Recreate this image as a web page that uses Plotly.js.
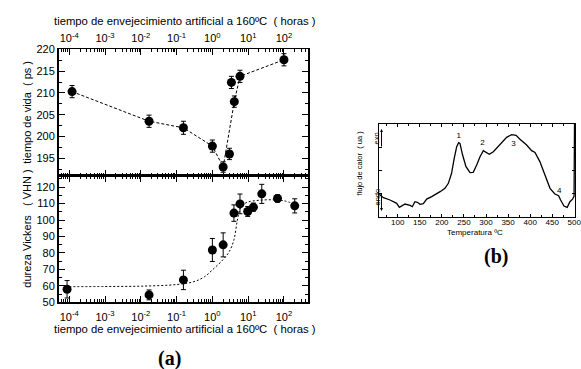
<!DOCTYPE html>
<html>
<head>
<meta charset="utf-8">
<script src="https://cdn.plot.ly/plotly-3.0.1.min.js"></script>
<style>html,body{margin:0;padding:0;background:#fff;}#chart{width:581px;height:369px;}</style>
</head>
<body>
<div id="chart"></div>
<script>
// ---- Panel (a) top: positron lifetime ----
const vidaTiempo = [1.2e-4, 0.017, 0.155, 1.0, 2.0, 3.0, 3.4, 4.1, 5.9, 100];
const vidaValor  = [210.3, 203.5, 202.0, 197.8, 193.0, 196.0, 212.4, 208.0, 213.8, 217.6];
const vidaError  = [1.4, 1.4, 1.5, 1.4, 1.2, 1.3, 1.4, 1.3, 1.4, 1.4];
const vidaGuiaT  = [1.2e-4, 0.017, 0.155, 1.0, 2.0, 4.1, 5.9, 100];
const vidaGuiaV  = [210.3, 203.5, 202.0, 197.8, 193.0, 208.0, 213.8, 217.6];

// ---- Panel (a) bottom: Vickers hardness ----
const durezaTiempo = [8.7e-5, 0.017, 0.155, 1.0, 2.0, 4.0, 5.9, 9.7, 14, 24, 66, 200];
const durezaValor  = [57.9, 54.5, 63.6, 81.8, 84.9, 104.2, 109.8, 105.2, 107.8, 115.9, 113.1, 108.6];
const durezaError  = [5.3, 3.0, 5.9, 7.0, 7.3, 5.0, 6.0, 3.0, 2.5, 5.8, 2.2, 4.3];
const ajusteT = [1e-4, 1e-3, 0.01, 0.1, 0.3, 0.6, 1.0, 2.0, 3.0, 4.0, 5.0, 6.0, 8.0, 10, 20, 50, 100, 200];
const ajusteV = [59.5, 59.6, 59.8, 60.8, 62.5, 65.5, 69.7, 76, 81, 88, 100, 107, 110, 111, 112, 112.3, 111.7, 109.6];

const decadas = [1e-4, 1e-3, 1e-2, 1e-1, 1, 10, 100];
const decadasTexto = ['10<sup>-4</sup>','10<sup>-3</sup>','10<sup>-2</sup>','10<sup>-1</sup>','10<sup>0</sup>','10<sup>1</sup>','10<sup>2</sup>'];

// ---- Panel (b): DSC ----
const temperatura = [58.5, 67.5, 82.6, 97.7, 103.8, 116.6, 128, 133, 139, 144.5, 150.6, 158, 165.7, 177, 196, 207, 214.7, 222, 228, 233.6, 238, 241, 247, 254.7, 263.8, 271, 278.9, 286.4, 294, 297.7, 307.5, 316.6, 331.7, 346.8, 358, 368, 377, 392, 403.4, 411, 422, 433.6, 445, 456, 464.5, 469, 476.6, 484, 490, 496, 499.5, 500.5];
const flujo = [24.1, 20.5, 18, 14.4, 10.1, 13.7, 12.2, 10.8, 16.2, 15.5, 13.3, 14, 19, 21.6, 27, 30.6, 36, 46.8, 62.9, 75.5, 79.9, 79.1, 66.5, 54, 47.5, 47.8, 55.8, 64.7, 71.2, 70.1, 67.3, 70.1, 77.3, 85.6, 88.5, 87.8, 83.5, 77.3, 71.2, 69.4, 59.4, 45, 30.6, 24.5, 22.7, 18, 11.5, 10.1, 16.2, 19, 22, 100];
const picosT = [238, 292, 362, 466];
const picosV = [87, 79, 78, 28];
const picosTexto = ['1', '2', '3', '4'];

const W = 581, H = 369;
const px = x => x / W;
const py = y => 1 - y / H;

const FONT = 'Liberation Sans, Arial, sans-serif';
const minorVals = [];
for (let e = -5; e <= 2; e++) for (let m = 2; m <= 9; m++) minorVals.push(m * Math.pow(10, e));

const baseLog = {
  type: 'log', range: [-4.30, 2.68], showgrid: false, zeroline: false,
  showline: true, linecolor: '#000', linewidth: 1.5, mirror: 'ticks',
  ticks: 'inside', ticklen: 6, tickwidth: 1, tickcolor: '#000',
  tickmode: 'array', tickvals: decadas, ticktext: decadasTexto,
  tickfont: {family: FONT, size: 11, color: '#000'}, ticklabeloverflow: 'allow',
  minor: {tickmode: 'array', tickvals: minorVals, ticks: 'inside', ticklen: 3, tickwidth: 1, tickcolor: '#000', showgrid: false}
};

const traces = [
  {x: vidaGuiaT, y: vidaGuiaV, xaxis: 'x2', yaxis: 'y2', mode: 'lines',
   line: {color: '#000', width: 1, dash: '3px,2px'}, hoverinfo: 'skip'},
  {x: vidaTiempo, y: vidaValor, xaxis: 'x2', yaxis: 'y2', mode: 'markers',
   marker: {color: '#000', size: 9},
   error_y: {type: 'data', array: vidaError, color: '#000', thickness: 1, width: 2.5}},
  {x: ajusteT, y: ajusteV, xaxis: 'x', yaxis: 'y', mode: 'lines',
   line: {color: '#000', width: 1, dash: '2px,2px', shape: 'spline'}, hoverinfo: 'skip'},
  {x: durezaTiempo, y: durezaValor, xaxis: 'x', yaxis: 'y', mode: 'markers',
   marker: {color: '#000', size: 9},
   error_y: {type: 'data', array: durezaError, color: '#000', thickness: 1, width: 2.5}},
  {x: temperatura, y: flujo, xaxis: 'x3', yaxis: 'y3', mode: 'lines',
   line: {color: '#000', width: 1.3}},
  {x: picosT, y: picosV, xaxis: 'x3', yaxis: 'y3', mode: 'text', text: picosTexto,
   textfont: {family: FONT, size: 8, color: '#000'}, hoverinfo: 'skip'}
];

const yMid = 0.5237;
const layout = {
  width: W, height: H, margin: {l: 0, r: 0, t: 0, b: 0},
  paper_bgcolor: '#fff', plot_bgcolor: '#fff', showlegend: false,
  font: {family: FONT, color: '#000'},
  xaxis: Object.assign({}, baseLog, {domain: [px(58.5), px(308.3)], anchor: 'y', side: 'bottom', ticklabelstandoff: 4}),
  xaxis2: Object.assign({}, baseLog, {domain: [px(58.5), px(308.3)], anchor: 'y2', side: 'top', ticklabelstandoff: 1}),
  yaxis: {domain: [py(302.3), yMid], anchor: 'x', range: [50, 126.9],
    showgrid: false, zeroline: false, showline: true, linecolor: '#000', linewidth: 1.5, mirror: 'ticks',
    ticks: 'inside', ticklen: 6, tickcolor: '#000', tickmode: 'array', tickvals: [50,60,70,80,90,100,110,120],
    tickfont: {family: FONT, size: 11, color: '#000'},
    minor: {tickmode: 'array', tickvals: [55,65,75,85,95,105,115,125], ticks: 'inside', ticklen: 3, tickcolor: '#000'}},
  yaxis2: {domain: [yMid, py(49.3)], anchor: 'x2', range: [191, 220],
    showgrid: false, zeroline: false, showline: true, linecolor: '#000', linewidth: 1.5, mirror: 'ticks',
    ticks: 'inside', ticklen: 6, tickcolor: '#000', tickmode: 'array', tickvals: [195,200,205,210,215,220],
    tickfont: {family: FONT, size: 11, color: '#000'},
    minor: {tickmode: 'array', tickvals: [192.5,197.5,202.5,207.5,212.5,217.5], ticks: 'inside', ticklen: 3, tickcolor: '#000'}},
  xaxis3: {domain: [px(379.3), px(575)], anchor: 'y3', range: [58.3, 501.6],
    showgrid: false, zeroline: false, showline: true, linecolor: '#000', linewidth: 1.3, mirror: 'ticks',
    ticks: 'inside', ticklen: 3, tickcolor: '#000', tickmode: 'array', tickvals: [100,150,200,250,300,350,400,450,500],
    tickfont: {family: FONT, size: 8, color: '#000'}, ticklabeloverflow: 'allow', ticklabelstandoff: -3,
    minor: {tickmode: 'array', tickvals: [75,125,175,225,275,325,375,425,475], ticks: 'inside', ticklen: 2, tickcolor: '#000'}},
  yaxis3: {domain: [py(216.7), py(124)], anchor: 'x3', range: [0, 100],
    showgrid: false, zeroline: false, showline: true, linecolor: '#000', linewidth: 1.3, mirror: 'ticks',
    ticks: 'inside', ticklen: 3, tickcolor: '#000', tickmode: 'array', tickvals: [25, 50, 75],
    showticklabels: false},
  annotations: [
    {text: 'tiempo de envejecimiento artificial a 160ºC  ( horas )', xref: 'paper', yref: 'paper',
     x: px(184.5), y: py(20.7), xanchor: 'center', yanchor: 'middle', showarrow: false, font: {family: FONT, size: 11.3}},
    {text: 'tiempo de envejecimiento artificial a 160ºC  ( horas )', xref: 'paper', yref: 'paper',
     x: px(184.5), y: py(329.3), xanchor: 'center', yanchor: 'middle', showarrow: false, font: {family: FONT, size: 11.3}},
    {text: 'tiempo de vida  ( ps )', xref: 'paper', yref: 'paper', textangle: -90,
     x: px(26.7), y: py(112), xanchor: 'center', yanchor: 'middle', showarrow: false, font: {family: FONT, size: 11}},
    {text: 'dureza Vickers   ( VHN )', xref: 'paper', yref: 'paper', textangle: -90,
     x: px(26.7), y: py(229), xanchor: 'center', yanchor: 'middle', showarrow: false, font: {family: FONT, size: 11}},
    {text: '<b>(a)</b>', xref: 'paper', yref: 'paper', x: px(169), y: py(358),
     xanchor: 'center', yanchor: 'middle', showarrow: false, font: {family: 'Liberation Serif, Times New Roman, serif', size: 20}},
    {text: '<b>(b)</b>', xref: 'paper', yref: 'paper', x: px(496), y: py(256),
     xanchor: 'center', yanchor: 'middle', showarrow: false, font: {family: 'Liberation Serif, Times New Roman, serif', size: 20}},
    {text: 'Temperatura ºC', xref: 'paper', yref: 'paper', x: px(475), y: py(232),
     xanchor: 'center', yanchor: 'middle', showarrow: false, font: {family: FONT, size: 8}},
    {text: 'flujo de calor  ( ua )', xref: 'paper', yref: 'paper', textangle: -90,
     x: px(358.5), y: py(163), xanchor: 'center', yanchor: 'middle', showarrow: false, font: {family: FONT, size: 7.5}},
    {text: 'exo', xref: 'paper', yref: 'paper', textangle: -90,
     x: px(376.5), y: py(139), xanchor: 'center', yanchor: 'middle', showarrow: false, font: {family: FONT, size: 7.5}},
    {text: 'endo', xref: 'paper', yref: 'paper', textangle: -90,
     x: px(376.5), y: py(197), xanchor: 'center', yanchor: 'middle', showarrow: false, font: {family: FONT, size: 7.5}},
    {text: '', xref: 'paper', yref: 'paper', x: px(381.5), y: py(129), ax: 0, ay: 19,
     showarrow: true, arrowhead: 2, arrowsize: 0.6, arrowwidth: 1, arrowcolor: '#000'},
    {text: '', xref: 'paper', yref: 'paper', x: px(381.5), y: py(211), ax: 0, ay: -19,
     showarrow: true, arrowhead: 2, arrowsize: 0.6, arrowwidth: 1, arrowcolor: '#000'}
  ]
};

Plotly.newPlot('chart', traces, layout, {staticPlot: true, displayModeBar: false});
</script>
</body>
</html>
